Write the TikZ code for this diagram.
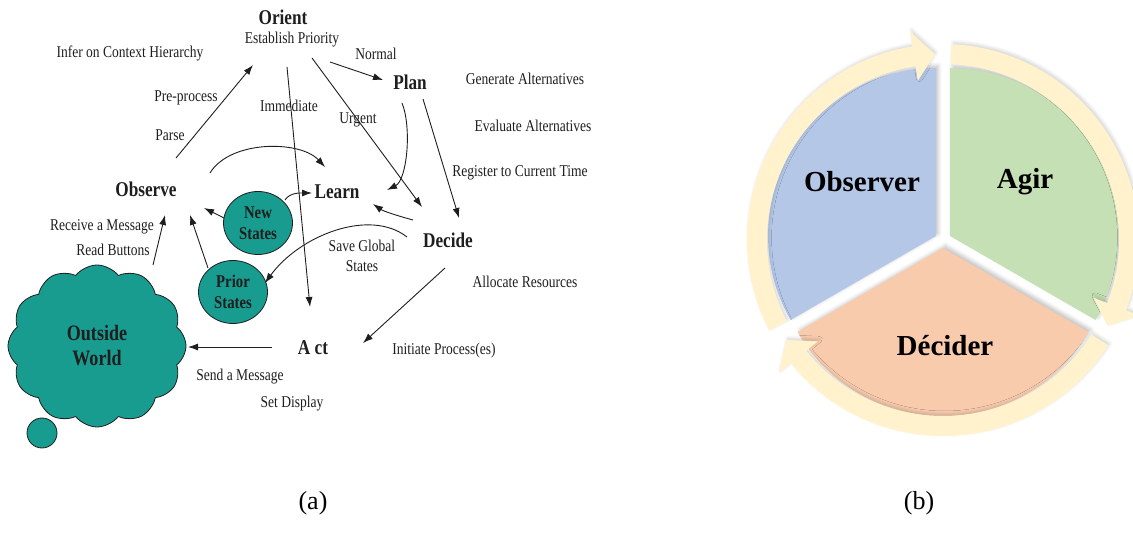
\documentclass[tikz,border=0pt]{standalone}
\usepackage{fontspec}
\setmainfont{Liberation Serif}
\newfontfamily\narrow[FakeStretch=0.82]{Liberation Serif}
\usetikzlibrary{arrows.meta,shapes.symbols,shapes.geometric,shadows.blur}

\definecolor{ink}{RGB}{30,30,30}
\definecolor{worldteal}{RGB}{24,156,144}
\definecolor{obsblue}{RGB}{180,199,231}
\definecolor{actgreen}{RGB}{197,224,180}
\definecolor{decorange}{RGB}{248,203,173}
\definecolor{ringcream}{RGB}{255,242,204}

\begin{document}
\begin{tikzpicture}[x=1pt,y=-1pt,
  lbl/.style={font=\narrow\fontsize{16.5}{20}\selectfont, inner sep=0pt, text=ink, align=center},
  stage/.style={font=\narrow\bfseries\fontsize{21}{24}\selectfont, inner sep=0pt, text=ink},
  statebox/.style={ellipse, minimum width=69pt, minimum height=63pt, inner sep=0pt,
    fill=worldteal, draw=ink, line width=0.8pt, align=center,
    font=\narrow\bfseries\fontsize{18}{21}\selectfont, text=ink},
  flow/.style={-{Latex[length=10pt,width=7pt]}, line width=0.9pt, draw=ink},
  slice/.style={blur shadow={shadow xshift=2.5pt, shadow yshift=2.5pt, shadow blur radius=3.5pt, shadow opacity=22}},
  loop/.style={fill=ringcream, blur shadow={shadow xshift=1.5pt, shadow yshift=2pt, shadow blur radius=3pt, shadow opacity=16}},
  cyclelbl/.style={font=\bfseries\fontsize{29}{32}\selectfont, inner sep=0pt, text=black},
  caption/.style={font=\fontsize{26}{30}\selectfont, inner sep=0pt}]
\useasboundingbox (0,0) rectangle (1133,534);

% ---------------- (a) the observe / orient / decide / act loop ----------------
\node[stage] (orient) at (283,17) {Orient};
\node[lbl] (prio) at (292,40) {Establish Priority};
\node[lbl] (infer) at (130,53) {Infer on Context Hierarchy};
\node[lbl] (normal) at (376,54) {Normal};
\node[stage] (plan) at (410,82) {Plan};
\node[lbl] (gen) at (525,79) {Generate Alternatives};
\node[lbl] (pre) at (186,98) {Pre-process};
\node[lbl] (immed) at (289,106) {Immediate};
\node[lbl] (urgent) at (358,120) {Urgent};
\node[lbl] (evalu) at (533,126) {Evaluate Alternatives};
\node[lbl] (parse) at (170,135) {Parse};
\node[lbl] (reg) at (520,173) {Register to Current Time};
\node[stage] (observe) at (146,189) {Observe};
\node[stage] (learn) at (337,192) {Learn};
\node[stage] (decide) at (448,240) {Decide};
\node[lbl] (save) at (362,256) {Save Global\\States};
\node[lbl] (alloc) at (525,282) {Allocate Resources};
\node[stage] (act) at (313,348) {A ct};
\node[lbl] (init) at (444,351) {Initiate Process(es)};
\node[lbl] (send) at (240,377) {Send a Message};
\node[lbl] (setd) at (292,404) {Set Display};
\node[lbl] (recv) at (102,227) {Receive a Message};
\node[lbl] (read) at (113,250) {Read Buttons};

\node[statebox] (news) at (258,223) {New\\States};
\node[statebox] (prior) at (233,292) {Prior\\States};

\node[circle, minimum size=30pt, fill=worldteal, draw=ink, line width=0.8pt] (bubble) at (42,433) {};
\node[cloud, cloud puffs=12, cloud puff arc=105, aspect=1.1, minimum width=178pt, minimum height=162pt,
      fill=worldteal, draw=ink, line width=0.8pt, align=center,
      font=\narrow\bfseries\fontsize{22}{25}\selectfont, text=ink] (world) at (97,346) {Outside\\World};

% straight flows
\draw[flow] ([shift={(30,-31)}]observe.center) -- ([shift={(-39,25)}]prio.center);
\draw[flow] ([shift={(-5,27)}]prio.center) -- ([shift={(-3,-41)}]act.center);
\draw[flow] ([shift={(38,22)}]prio.center) -- ([shift={(-27,-2)}]plan.center);
\draw[flow] ([shift={(20,18)}]prio.center) -- ([shift={(-26,-33)}]decide.center);
\draw[flow] ([shift={(13,17)}]plan.center) -- ([shift={(11,-22)}]decide.center);
\draw[flow] ([shift={(-3,28)}]decide.center) -- ([shift={(50,-5)}]act.center);
\draw[flow] ([shift={(-41,-1)}]act.center) -- ([shift={(91,1)}]world.center);
\draw[flow] ([shift={(56,-81)}]world.center) -- ([shift={(19,26)}]observe.center);
\draw[flow] ([shift={(-25,-24)}]prior.center) -- ([shift={(44,26)}]observe.center);
\draw[flow] ([shift={(-34,-5)}]news.center) -- ([shift={(58,19)}]observe.center);

% curved flows
\draw[flow] ([shift={(-8,21)}]plan.center) .. controls +(10,25) and +(20,-10) .. ([shift={(50,-2)}]learn.center);
\draw[flow] ([shift={(-35,-20)}]decide.center) .. controls +(-15,-4) and +(10,7) .. ([shift={(36,12)}]learn.center);
\draw[flow] ([shift={(-41,-3)}]decide.center) .. controls +(-37,-29) and +(35,-48) .. ([shift={(32,-9)}]prior.center);
\draw[flow] ([shift={(27,-23)}]news.center) .. controls +(5,-8) and +(-10,0) .. ([shift={(-25,1)}]learn.center);
\draw[flow] ([shift={(64,-16)}]observe.center) .. controls +(20,-33) and +(-25,-27) .. ([shift={(-12,-25)}]learn.center);

\node[caption] (capa) at (313,503) {(a)};

% ---------------- (b) three-part cycle ----------------
\begin{scope}[shift={(943,240)}, yscale=-1]
  % exploded pie slices
  \fill[obsblue, slice] (150:8) -- ++(90:168) arc[start angle=90, end angle=210, radius=168] -- cycle;
  \fill[actgreen, slice] (30:8) -- ++(-30:168) arc[start angle=-30, end angle=90, radius=168] -- cycle;
  \fill[decorange, slice] (270:8) -- ++(210:168) arc[start angle=210, end angle=330, radius=168] -- cycle;
  % circular arrows running clockwise around the slices
  \foreach \tail/\tip in {207.5/92.5, 87.5/-27.5, -32.5/-147.5}{
    \pgfmathsetmacro{\base}{\tip+6.5}
    \path[loop] (\tail:196) arc[start angle=\tail, end angle=\base, radius=196]
      -- (\base:211) -- (\tip:186) -- (\base:161) -- (\base:176)
      arc[start angle=\base, end angle=\tail, radius=176] -- cycle;
  }
\end{scope}
\node[cyclelbl] (observer) at (862,182) {Observer};
\node[cyclelbl] (agir) at (1025,182) {Agir};
\node[cyclelbl] (decider) at (945,346) {Décider};

\node[caption] (capb) at (919,503) {(b)};
\end{tikzpicture}
\end{document}
